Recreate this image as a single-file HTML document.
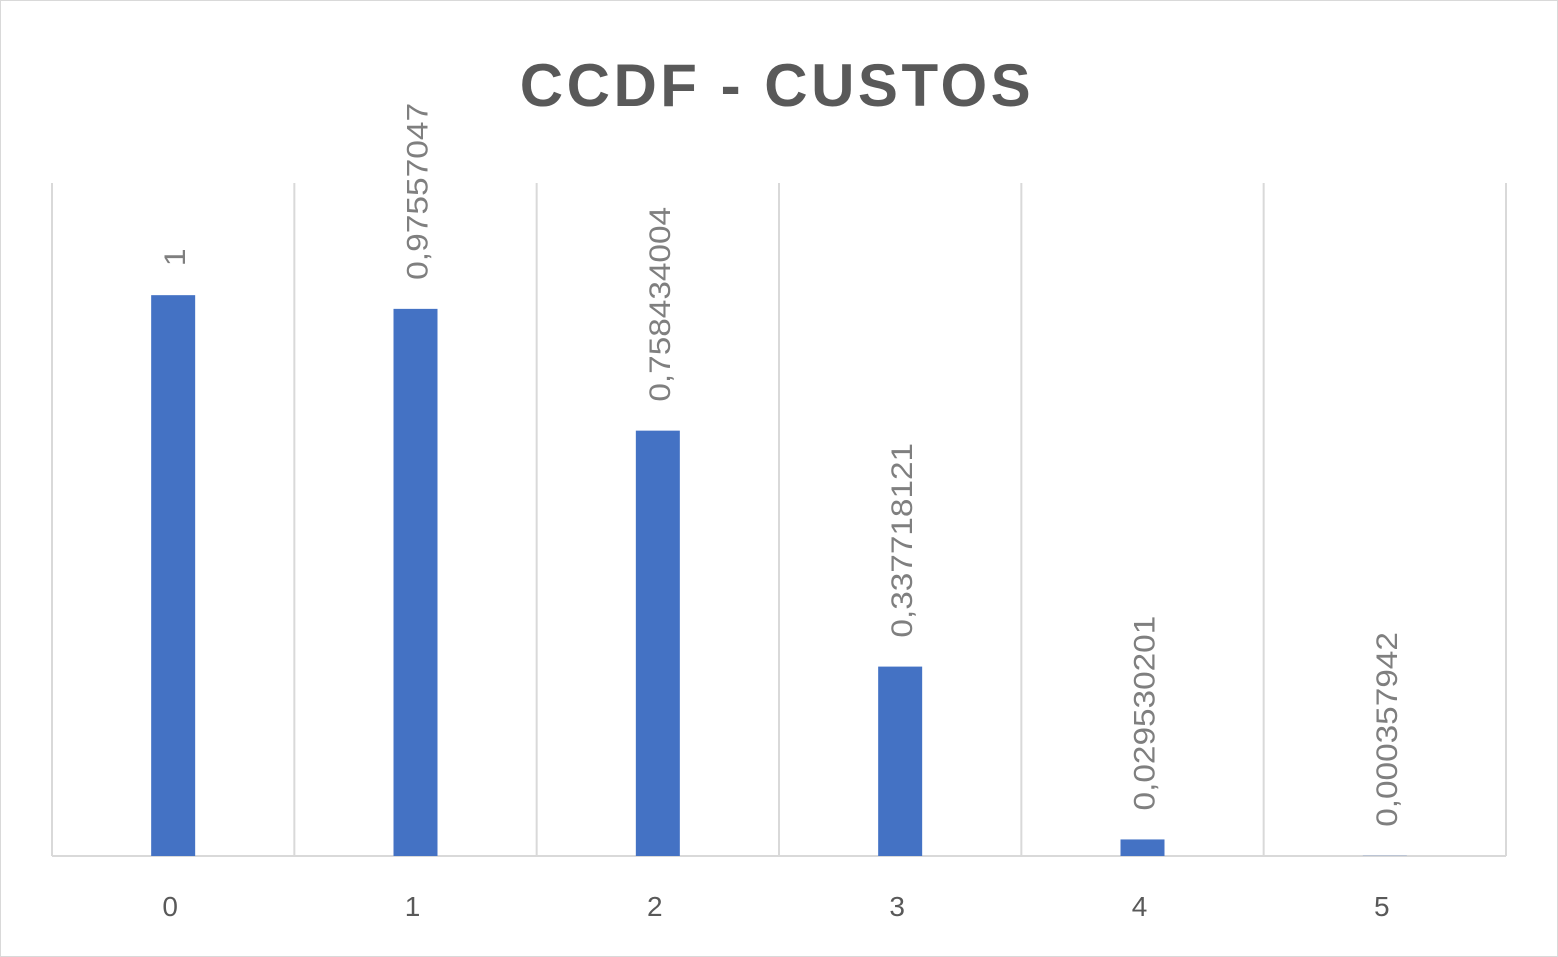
<!DOCTYPE html>
<html><head><meta charset="utf-8"><style>
html,body{margin:0;padding:0;background:#fff;}
svg{display:block;font-family:"Liberation Sans",sans-serif;}
</style></head><body>
<svg id="chart" width="1558" height="957" viewBox="0 0 1558 957">
<rect x="0.5" y="0.5" width="1557" height="956" fill="#fff" stroke="#d9d9d9"/>
<text x="777" y="106" text-anchor="middle" font-size="60" font-weight="bold" letter-spacing="3.5" fill="#595959">CCDF - CUSTOS</text>
<g id="grid"></g><g id="bars"></g><g id="labels"></g><g id="xticks"></g>
</svg>
<script>
const categories = ["0","1","2","3","4","5"];
const values = [1, 0.97557047, 0.758434004, 0.337718121, 0.029530201, 0.000357942];
const valueLabels = ["1","0,97557047","0,758434004","0,337718121","0,029530201","0,000357942"];
const NS="http://www.w3.org/2000/svg";
const plotLeft=52,plotRight=1506,plotBase=856,yMax=1.2,plotTop=183;
const band=(plotRight-plotLeft)/categories.length;
const xC=i=>plotLeft+band*(i+0.5);
const yS=v=>plotBase-(v/yMax)*(plotBase-plotTop);
function mk(tag,attrs,parent){const e=document.createElementNS(NS,tag);for(const k in attrs)e.setAttribute(k,attrs[k]);document.getElementById(parent).appendChild(e);return e;}
for(let i=0;i<=categories.length;i++){
  const x=plotLeft+band*i;
  const l=mk('line',{x1:x,x2:x,y1:plotTop,y2:plotBase,stroke:'#d9d9d9','stroke-width':2},'grid');
  
  
}
const ax=mk('line',{x1:plotLeft,x2:plotRight,y1:plotBase,y2:plotBase,stroke:'#d9d9d9','stroke-width':2},'grid');


categories.forEach((c,i)=>{
  const cx=xC(i),w=44,yt=yS(values[i]);
  const r=mk('rect',{x:cx-w/2,y:yt,width:w,height:plotBase-yt,fill:'#4472c4'},'bars');
  
  
  const s=valueLabels[i];
  const ly=yt-29;
  const t=mk('text',{x:0,y:0,'font-size':30,fill:'#7f7f7f',transform:`translate(${cx+12},${ly}) rotate(-90)`,textLength:s.length*17.7,lengthAdjust:'spacingAndGlyphs'},'labels');
  t.textContent=s;
  
  
  const tk=mk('text',{x:cx-3,y:916,'font-size':28,fill:'#595959','text-anchor':'middle'},'xticks');
  tk.textContent=c;
  
  
});
</script>
</body></html>
